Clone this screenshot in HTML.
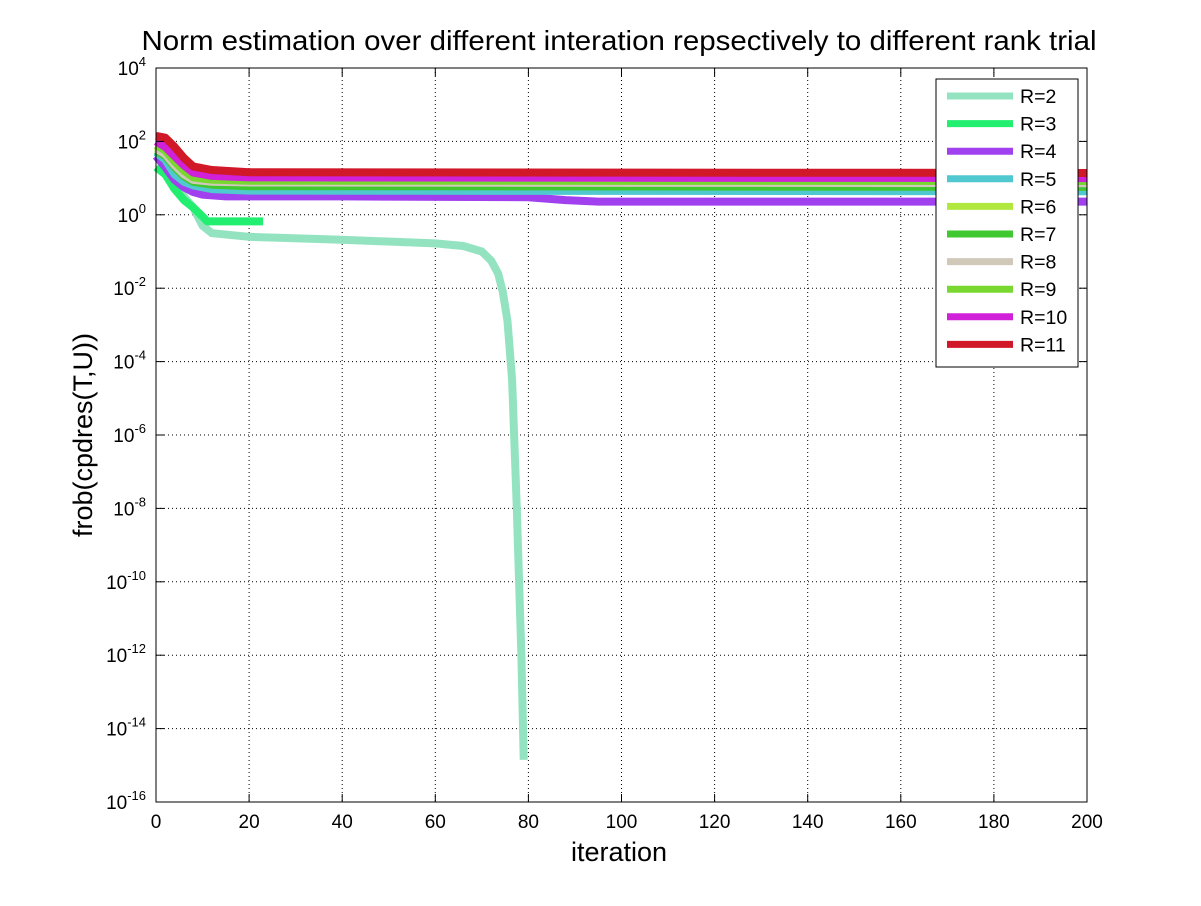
<!DOCTYPE html>
<html><head><meta charset="utf-8"><style>
body{margin:0;background:#fff;}
svg text{font-family:"Liberation Sans",Arial,sans-serif;}
</style></head><body>
<svg id="chart" width="1201" height="901" xmlns="http://www.w3.org/2000/svg">
<rect width="1201" height="901" fill="#fff"/>
<text x="619" y="50" font-size="27.5" text-anchor="middle" textLength="955" lengthAdjust="spacingAndGlyphs">Norm estimation over different interation repsectively to different rank trial</text>
<text x="619" y="861" font-size="27" text-anchor="middle">iteration</text>
<text transform="translate(92,435) rotate(-90)" font-size="27" text-anchor="middle">frob(cpdres(T,U))</text>
<g id="grid"></g><g id="series"></g><g id="axes"></g><g id="legend"></g>
</svg>
<script>
const xTicks=[0,20,40,60,80,100,120,140,160,180,200];
const yTickExps=[4,2,0,-2,-4,-6,-8,-10,-12,-14,-16];
const seriesNames=["R=2","R=3","R=4","R=5","R=6","R=7","R=8","R=9","R=10","R=11"];
const seriesColors=["#93e3c0","#22ee70","#a040ee","#50c8d0","#b0e840","#40c830","#d0c8b8","#78d830","#d020d8","#d01828"];
// iterations and log10 values per series
const it2=[0,2,4,6,8,10,12,20,40,60,66,70,72,73.5,74.5,75.5,76.5,77.5,78.5,79];
const v2=[1.6,1.3,0.8,0.5,0.2,-0.3,-0.5,-0.6,-0.68,-0.78,-0.85,-1.0,-1.25,-1.6,-2.1,-2.9,-4.5,-8,-12,-14.85];
const it3=[0,2,4,6,8,10,11,23];
const v3=[1.3,1.1,0.7,0.4,0.2,-0.05,-0.18,-0.18];
const it4=[0,2,4,6,8,10,15,40,80,88,95,200];
const v4=[1.6,1.3,0.95,0.75,0.62,0.55,0.5,0.5,0.48,0.4,0.36,0.36];
const it5=[0,2,4,6,8,12,20,200];
const v5=[1.7,1.5,1.1,0.9,0.8,0.7,0.66,0.64];
const it6=[0,2,4,6,8,12,20,200];
const v6=[1.85,1.7,1.4,1.15,1.0,0.95,0.92,0.9];
const it7=[0,2,4,6,8,12,20,200];
const v7=[1.75,1.6,1.3,1.05,0.9,0.82,0.78,0.76];
const it8=[0,2,4,6,8,12,20,200];
const v8=[1.8,1.65,1.35,1.1,0.95,0.9,0.88,0.86];
const it9=[0,2,4,6,8,12,20,200];
const v9=[1.9,1.75,1.45,1.2,1.02,0.96,0.93,0.92];
const it10=[0,2,4,6,8,12,20,200];
const v10=[2.0,1.85,1.6,1.35,1.15,1.06,1.02,1.0];
const it11=[0,2,4,6,8,12,20,200];
const v11=[2.15,2.1,1.85,1.55,1.32,1.22,1.16,1.14];
const allIts=[it2,it3,it4,it5,it6,it7,it8,it9,it10,it11];
const allVals=[v2,v3,v4,v5,v6,v7,v8,v9,v10,v11];

const X0=156,X1=1087,Y0=68,Y1=802;
const xs=i=>X0+(i/200)*(X1-X0);
const ys=e=>Y0+(4-e)/20*(Y1-Y0);
const NS="http://www.w3.org/2000/svg";
function mk(tag,parent,attrs){const el=document.createElementNS(NS,tag);for(const k in attrs)el.setAttribute(k,attrs[k]);parent.appendChild(el);return el;}
const grid=document.getElementById('grid'),axes=document.getElementById('axes'),ser=document.getElementById('series'),leg=document.getElementById('legend');
xTicks.forEach(t=>{
 if(t>0&&t<200){const l=mk('line',grid,{x1:xs(t),x2:xs(t),y1:Y0,y2:Y1,stroke:'#000','stroke-width':1,'stroke-dasharray':'1,3'});
 }
 const tk=mk('line',axes,{x1:xs(t),x2:xs(t),y1:Y1,y2:Y1-8,stroke:'#000'});
 
 const tk2=mk('line',axes,{x1:xs(t),x2:xs(t),y1:Y0,y2:Y0+8,stroke:'#000'});
 
 const tx=mk('text',axes,{x:xs(t),y:Y1+26,'font-size':19,'text-anchor':'middle'});tx.textContent=t;
 
});
yTickExps.forEach(e=>{
 if(e<4&&e>-16){const l=mk('line',grid,{x1:X0,x2:X1,y1:ys(e),y2:ys(e),stroke:'#000','stroke-width':1,'stroke-dasharray':'1,3'});
 }
 const tk=mk('line',axes,{x1:X0,x2:X0+8,y1:ys(e),y2:ys(e),stroke:'#000'});
 
 const tk2=mk('line',axes,{x1:X1,x2:X1-8,y1:ys(e),y2:ys(e),stroke:'#000'});
 
 const tx=mk('text',axes,{x:X0-10,y:ys(e)+7,'font-size':19,'text-anchor':'end'});
 
 const b=mk('tspan',tx,{});b.textContent='10';
 const s=mk('tspan',tx,{dy:-9,'font-size':13});s.textContent=e;
});
const fr=mk('rect',axes,{x:X0,y:Y0,width:X1-X0,height:Y1-Y0,fill:'none',stroke:'#000','stroke-width':1});

allIts.forEach((its,k)=>{
 const d=its.map((t,j)=>(j?'L':'M')+xs(t).toFixed(1)+','+ys(allVals[k][j]).toFixed(1)).join(' ');
 const p=mk('path',ser,{d:d,fill:'none',stroke:seriesColors[k],'stroke-width':8,'stroke-linejoin':'round'});
 
 
});
const lb=mk('rect',leg,{x:936,y:79,width:142,height:288,fill:'#fff',stroke:'#000'});

seriesNames.forEach((n,k)=>{
 const y=96+k*27.6;
 const l=mk('line',leg,{x1:947,x2:1013,y1:y,y2:y,stroke:seriesColors[k],'stroke-width':7});
 
 const t=mk('text',leg,{x:1020,y:y+7,'font-size':19.5});t.textContent=n;
 
});
</script>
</body></html>
